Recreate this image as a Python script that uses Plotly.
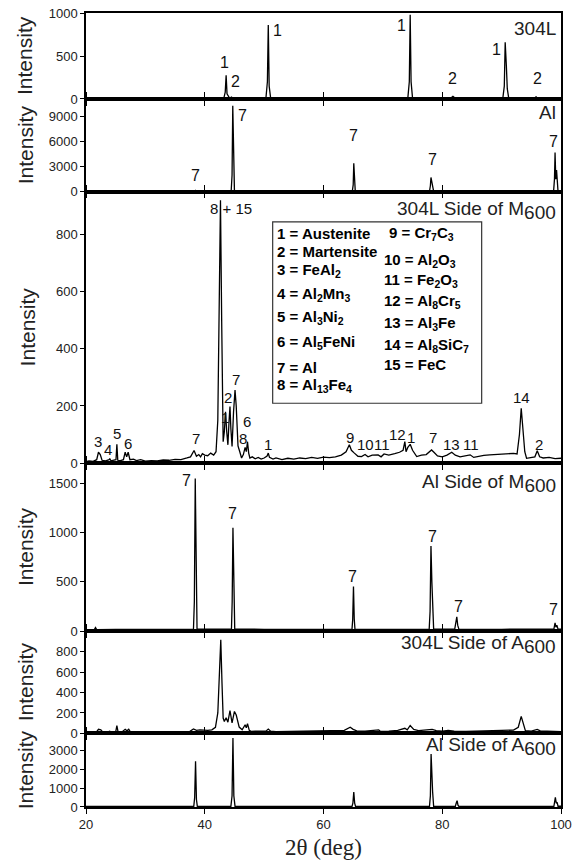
import plotly.graph_objects as go
from plotly.subplots import make_subplots

# ---------------- data (2-theta in deg, intensity) ----------------
tt_304L = [20, 43.2, 43.45, 43.6, 43.75, 44.2, 44.5, 44.8, 50.3, 50.55, 50.7, 50.85, 51.1,
           74.2, 74.45, 74.6, 74.75, 75.0, 81.4, 81.8, 82.2, 90.2, 90.45, 90.6, 90.8, 90.95,
           91.2, 95.5, 95.8, 96.1, 100]
int_304L = [5, 5, 80, 275, 60, 8, 22, 6, 8, 200, 860, 150, 8,
            8, 200, 980, 200, 8, 8, 30, 8, 8, 150, 660, 380, 120,
            8, 8, 25, 8, 8]

tt_Al = [20, 38.3, 38.45, 38.6, 44.45, 44.6, 44.72, 44.85, 45.0, 64.85, 65.0, 65.1, 65.2,
         65.35, 77.85, 78.0, 78.1, 78.25, 78.4, 78.55, 98.75, 98.9, 99.0, 99.12, 99.25,
         99.38, 99.5, 100]
int_Al = [30, 30, 150, 30, 60, 2000, 10300, 2000, 60, 40, 800, 3400, 700,
          40, 40, 700, 1700, 1200, 400, 40, 40, 1500, 4700, 1500, 2600,
          400, 40, 40]

tt_304L_M600 = [20, 20.5, 21.2, 21.8, 22.1, 22.4, 22.7, 23.3, 23.9, 24.0, 24.2, 24.7, 25.05,
                25.2, 25.35, 25.8, 26.3, 26.6, 26.85, 27.1, 27.4, 28.0, 28.5, 29.2, 30, 31,
                32, 33, 34, 35, 36, 37, 37.6, 38.2, 38.6, 39.0, 39.3, 39.6, 40.0, 40.5, 41.0,
                41.5, 41.9, 42.2, 42.45, 42.65, 42.85, 43.1, 43.3, 43.5, 43.7, 43.9, 44.1,
                44.25, 44.4, 44.6, 44.85, 45.1, 45.3, 45.6, 45.9, 46.2, 46.5, 46.8, 47.0,
                47.2, 47.4, 47.6, 48.0, 48.5, 49.0, 49.5, 50.0, 50.5, 50.7, 50.9, 51.5, 52,
                53, 54, 55, 56, 57, 58, 59, 60, 61, 62, 63, 63.8, 64.35, 64.7, 65.2, 65.8,
                66.4, 67.0, 67.5, 68.2, 69.2, 69.7, 70.2, 71, 72, 72.8, 73.4, 73.7, 73.9,
                74.2, 74.6, 75.0, 75.7, 76.5, 77.3, 77.8, 78.2, 78.6, 79.2, 80.0, 80.8,
                81.6, 82.2, 83, 84, 84.7, 85.3, 86, 87, 88, 89, 90, 91, 92, 92.6, 93.0,
                93.3, 93.6, 93.9, 94.2, 95.0, 95.6, 96.0, 96.4, 97, 98, 99, 100]
int_304L_M600 = [5, 8, 6, 12, 38, 30, 10, 8, 12, 16, 8, 10, 12,
                 66, 10, 9, 12, 38, 22, 38, 12, 14, 9, 12, 7, 9,
                 8, 11, 10, 13, 12, 18, 22, 44, 24, 30, 22, 33, 28, 26, 35,
                 28, 40, 150, 600, 920, 500, 75, 110, 180, 110, 64, 150,
                 198, 120, 58, 180, 256, 200, 60, 40, 18, 30, 55, 40,
                 75, 35, 18, 22, 15, 20, 14, 18, 25, 35, 20, 14, 18,
                 12, 17, 14, 18, 16, 20, 17, 21, 19, 22, 28, 40, 64, 45, 35, 24,
                 23, 30, 22, 28, 29, 22, 32, 28, 33, 38, 45, 75, 40,
                 55, 66, 45, 23, 28, 30, 40, 46, 38, 25, 22, 28,
                 38, 28, 22, 25, 29, 20, 24, 27, 29, 30, 32, 33, 34, 32, 100,
                 192, 110, 40, 17, 20, 22, 43, 22, 18, 20, 16, 17]

tt_Al_M600 = [20, 21.4, 21.6, 21.8, 25, 30, 35, 38.1, 38.25, 38.4, 38.55, 38.7, 44.5, 44.62,
              44.75, 44.9, 45.05, 50, 55, 60, 64.8, 64.92, 65.05, 65.18, 65.3, 70, 77.8,
              77.95, 78.1, 78.25, 78.4, 78.55, 82.1, 82.3, 82.45, 82.6, 82.8, 90, 98.8,
              99.0, 99.15, 99.3, 99.5, 100]
int_Al_M600 = [15, 15, 35, 15, 18, 15, 17, 20, 300, 1550, 300, 20, 22, 300,
               1050, 300, 22, 18, 17, 17, 18, 120, 452, 120, 18, 17, 20,
               200, 864, 500, 100, 20, 20, 100, 145, 60, 20, 18, 20,
               84, 40, 60, 20, 20]

tt_304L_A600 = [20, 21, 21.8, 22.1, 22.5, 22.8, 23.5, 24.0, 24.3, 25.0, 25.2, 25.4, 26.0, 26.6,
                26.9, 27.2, 27.5, 28.5, 30, 32, 34, 36, 37.5, 38.1, 38.6, 39.2, 39.7, 40.5,
                41.2, 41.8, 42.2, 42.45, 42.7, 42.9, 43.1, 43.3, 43.6, 43.9, 44.25, 44.6,
                45.0, 45.3, 45.6, 45.8, 46.3, 46.8, 47.0, 47.2, 47.5, 47.8, 48.5, 49.5,
                50.3, 50.7, 51.1, 52, 54, 56, 58, 60, 62, 63.5, 64.5, 65.0, 65.6, 67,
                69.3, 69.6, 71, 72.5, 73.7, 74.1, 74.6, 75.2, 76, 77.5, 78.3, 79, 80, 81,
                82, 84, 86, 88, 90, 92, 92.8, 93.3, 93.7, 94.0, 95, 96.0, 96.5, 98, 100]
int_304L_A600 = [10, 12, 18, 40, 35, 15, 10, 22, 12, 15, 75, 15, 12, 40,
                 25, 40, 14, 12, 10, 12, 11, 14, 20, 43, 30, 35, 32, 30,
                 35, 60, 200, 650, 914, 500, 150, 117, 153, 110, 224, 104,
                 215, 180, 100, 62, 36, 85, 55, 95, 30, 20, 22, 20,
                 22, 43, 22, 18, 20, 18, 21, 20, 22, 30, 60, 40, 25, 22,
                 35, 20, 22, 30, 50, 35, 78, 40, 28, 35, 40, 28, 22, 30,
                 22, 20, 25, 28, 30, 32, 60, 166, 70, 28, 22, 40, 25, 20, 18]

tt_Al_A600 = [20, 38.15, 38.3, 38.45, 38.6, 38.75, 44.4, 44.6, 44.75, 44.9, 45.1, 64.8, 64.95,
              65.1, 65.25, 65.4, 77.85, 78.0, 78.12, 78.25, 78.38, 78.55, 82.2, 82.35, 82.5,
              82.65, 82.8, 98.8, 98.95, 99.05, 99.2, 99.35, 99.5, 100]
int_Al_A600 = [30, 30, 500, 2430, 400, 30, 40, 600, 3675, 600, 40, 30, 200,
               800, 200, 30, 40, 600, 2824, 1630, 800, 40, 30, 200, 335,
               100, 30, 40, 300, 512, 200, 250, 40, 40]

panel_titles = ["304L", "Al", "304L Side of M<sub><span style='font-size:19px'>600</span></sub>",
                "Al Side of M<sub><span style='font-size:19px'>600</span></sub>",
                "304L Side of A<sub><span style='font-size:19px'>600</span></sub>",
                "Al Side of A<sub><span style='font-size:19px'>600</span></sub>"]
y_tickvals = [[0, 500, 1000], [0, 3000, 6000, 9000], [0, 200, 400, 600, 800],
              [0, 500, 1000, 1500], [0, 200, 400, 600, 800], [0, 1000, 2000, 3000]]
y_ranges = [[0, 1001], [0, 11100], [0, 950], [0, 1705], [0, 1000], [0, 3920]]
x_ticks = [20, 40, 60, 80, 100]

legend_left = ["1 = Austenite", "2 = Martensite", "3 = FeAl<sub>2</sub>",
               "4 = Al<sub>2</sub>Mn<sub>3</sub>", "5 = Al<sub>3</sub>Ni<sub>2</sub>",
               "6 = Al<sub>5</sub>FeNi", "7 = Al", "8 = Al<sub>13</sub>Fe<sub>4</sub>"]
legend_right = ["9 = Cr<sub>7</sub>C<sub>3</sub>", "10 = Al<sub>2</sub>O<sub>3</sub>",
                "11 = Fe<sub>2</sub>O<sub>3</sub>", "12 = Al<sub>8</sub>Cr<sub>5</sub>",
                "13 = Al<sub>3</sub>Fe", "14 = Al<sub>8</sub>SiC<sub>7</sub>", "15 = FeC"]

peak_label_text = [
    ["1", "2", "1", "1", "2", "1", "2"],
    ["7", "7", "7", "7", "7"],
    ["8 + 15", "3", "4", "5", "6", "7", "1", "2", "7", "8", "6", "1",
     "9", "10", "11", "12", "1", "7", "13", "11", "14", "2"],
    ["7", "7", "7", "7", "7", "7"],
    [], [],
]
# label placement (layout, not data)
peak_label_pos = [
    [(43.4, 430), (45.1, 209), (52.2, 802), (73.2, 860), (81.8, 244), (89.2, 581), (96.0, 244)],
    [(38.4, 1880), (46.4, 9080), (65.1, 6680), (78.3, 3800), (98.7, 5960)],
    [(44.4, 892), (22.0, 75), (23.7, 46), (25.2, 102), (27.1, 67), (38.5, 85), (43.4, 158),
     (43.9, 228), (45.2, 291), (46.5, 85), (47.1, 144), (50.7, 64),
     (64.5, 90), (67.0, 64), (69.9, 64), (72.4, 99), (74.7, 88), (78.4, 88), (81.5, 64),
     (84.8, 64), (93.4, 229), (96.3, 64)],
    [(37.0, 1533), (44.6, 1189), (64.8, 553), (78.3, 959), (82.7, 249), (98.7, 216)],
    [], [],
]
label_size = [16, 16, 15, 16, 16, 16]
title_y = [826, 9444, 885, 1503, 865, 3213]

series_x = [tt_304L, tt_Al, tt_304L_M600, tt_Al_M600, tt_304L_A600, tt_Al_A600]
series_y = [int_304L, int_Al, int_304L_M600, int_Al_M600, int_304L_A600, int_Al_A600]

# ---------------- figure ----------------
row_h = [86, 92.7, 271.6, 168, 102.4, 73.6]
fig = make_subplots(rows=6, cols=1, shared_xaxes=True, vertical_spacing=0,
                    row_heights=row_h)

for i in range(6):
    fig.add_trace(go.Scatter(x=series_x[i], y=series_y[i], mode="lines",
                             line=dict(color="black", width=1.3), showlegend=False,
                             hoverinfo="skip"), row=i + 1, col=1)

FONT = "Liberation Sans, Arial, sans-serif"
for i in range(6):
    fig.update_yaxes(row=i + 1, col=1, range=y_ranges[i], tickvals=y_tickvals[i],
                     ticks="outside", ticklen=4, tickwidth=1, tickcolor="black",
                     showline=True, linecolor="black", linewidth=1.5, mirror=True,
                     showgrid=False, zeroline=False, automargin=False,
                     tickfont=dict(family=FONT, size=13, color="#222"))
    fig.update_xaxes(row=i + 1, col=1, range=[20, 100], tickvals=x_ticks,
                     ticks="outside", ticklen=5, tickwidth=1.2, tickcolor="black",
                     showline=True, linecolor="black", linewidth=1.5,
                     mirror=(True if i == 0 else "ticks"),
                     showgrid=False, zeroline=False, automargin=False,
                     showticklabels=(i == 5),
                     tickfont=dict(family=FONT, size=13, color="#222"))

annotations = []
tot = sum(row_h)
bottoms = []
acc = tot
for h in row_h:
    acc -= h
    bottoms.append(acc)
for i in range(6):
    yc = (bottoms[i] + row_h[i] / 2) / tot
    xpx = 27 if i == 2 else 25
    annotations.append(dict(text="Intensity", xref="paper", yref="paper",
                            x=(xpx - 86) / 475, y=yc, xanchor="center", yanchor="middle",
                            textangle=-90, showarrow=False,
                            font=dict(family=FONT, size=21, color="#222")))
for i in range(6):
    ax = "" if i == 0 else str(i + 1)
    annotations.append(dict(text=panel_titles[i], xref="paper", yref="y" + ax,
                            x=(558 - 86) / 475, y=title_y[i], xanchor="right",
                            yanchor="middle", showarrow=False,
                            font=dict(family=FONT, size=19, color="#222")))
for i in range(6):
    ax = "" if i == 0 else str(i + 1)
    for t, (px, py) in zip(peak_label_text[i], peak_label_pos[i]):
        annotations.append(dict(text=t, xref="x" + ax, yref="y" + ax, x=px, y=py,
                                xanchor="center", yanchor="middle", showarrow=False,
                                font=dict(family=FONT, size=label_size[i], color="#111")))
left_y = [803.5, 741.7, 675.3, 591.4, 508.6, 422.7, 335.4, 270]
right_y = [803.5, 710.2, 640.3, 564.5, 489, 413.3, 343.4]
for t, yy in zip(legend_left, left_y):
    annotations.append(dict(text="<b>" + t + "</b>", xref="x3", yref="y3", x=51.9, y=yy,
                            xanchor="left", yanchor="middle", showarrow=False,
                            font=dict(family=FONT, size=15, color="black")))
for j, (t, yy) in enumerate(zip(legend_right, right_y)):
    annotations.append(dict(text="<b>" + t + "</b>", xref="x3", yref="y3",
                            x=(70.7 if j == 0 else 69.9), y=yy,
                            xanchor="left", yanchor="middle", showarrow=False,
                            font=dict(family=FONT, size=15, color="black")))
annotations.append(dict(text="2θ (deg)", xref="paper", yref="paper", x=0.5, y=(807 - 847) / 794,
                        xanchor="center", yanchor="middle", showarrow=False,
                        font=dict(family="Liberation Serif, Times New Roman, serif", size=23,
                                  color="#222")))

fig.update_layout(
    width=576, height=860, autosize=False,
    margin=dict(l=86, r=15, t=13, b=53),
    paper_bgcolor="white", plot_bgcolor="white",
    annotations=annotations,
    shapes=[dict(type="rect", xref="x3", yref="y3", x0=51.44, x1=86.64, y0=209.6, y1=844,
                 line=dict(color="#333", width=1.2), fillcolor="rgba(0,0,0,0)")],
    showlegend=False,
)

# remove the default 8px page margin so the 576x860 figure fills the window exactly
post = ("document.documentElement.style.overflow='hidden';"
        "document.body.style.margin='0px';document.body.style.overflow='hidden';"
        "Plotly.relayout(document.getElementById('{plot_id}'), {width: 576, height: 860});")
fig.write_html("out.html", config={"displayModeBar": False, "responsive": False},
               post_script=post)
